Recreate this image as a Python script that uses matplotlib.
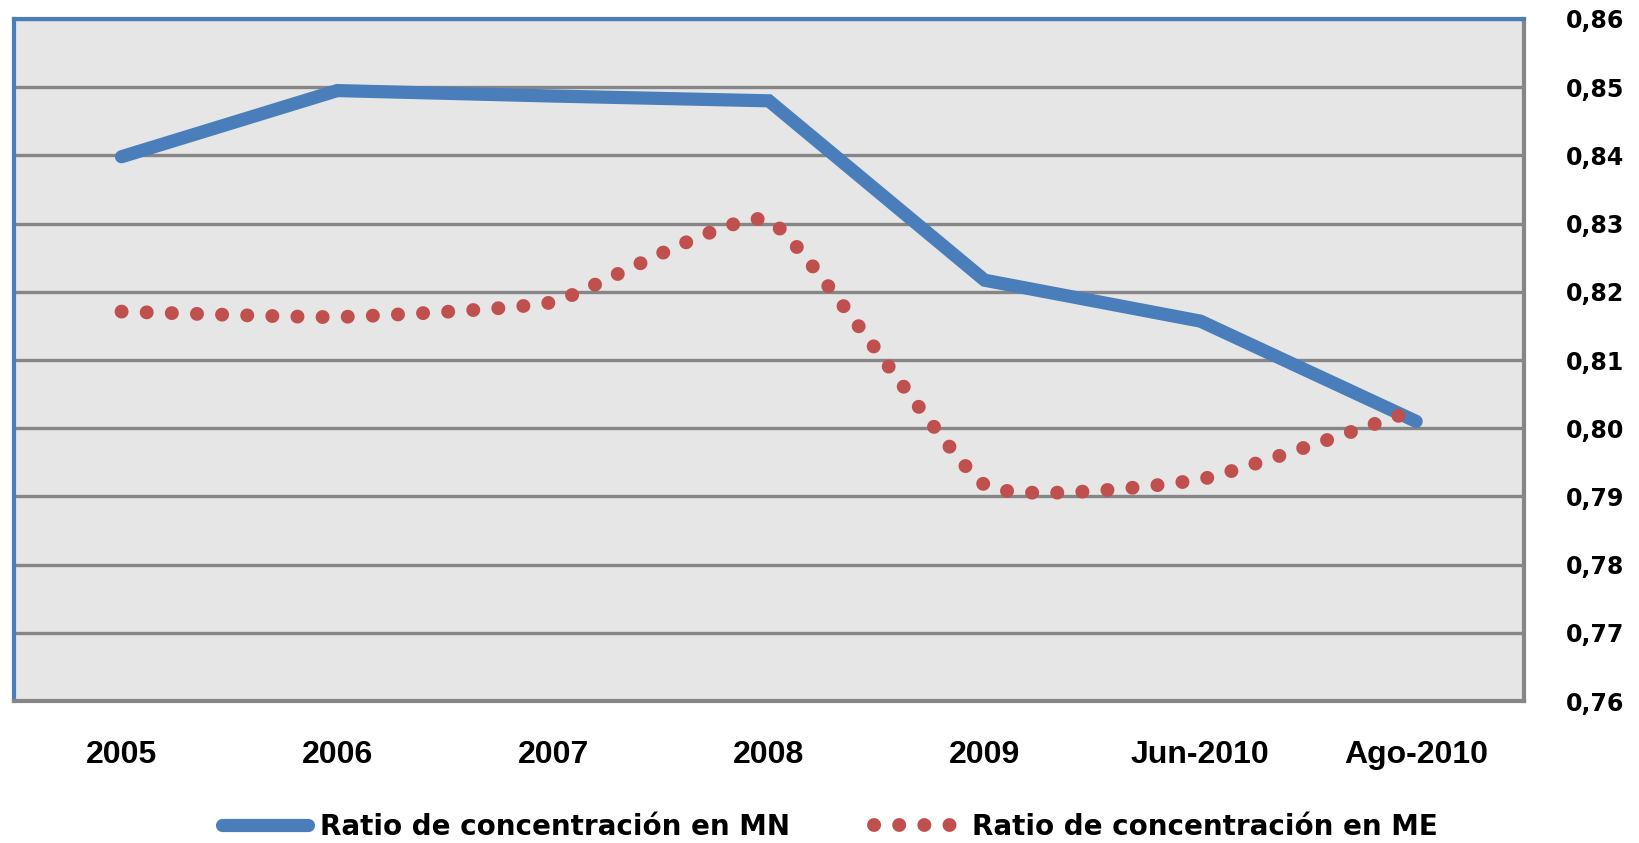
import matplotlib
matplotlib.use("Agg")
import matplotlib.pyplot as plt
import numpy as np

categorias = ["2005", "2006", "2007", "2008", "2009", "Jun-2010", "Ago-2010"]
ratio_mn = [0.8398, 0.8495, 0.8487, 0.8480, 0.8217, 0.8157, 0.8010]
ratio_me = [0.8171, 0.8163, 0.8185, 0.8305, 0.7917, 0.7925, 0.8027]
yticks = [0.76, 0.77, 0.78, 0.79, 0.80, 0.81, 0.82, 0.83, 0.84, 0.85, 0.86]

azul = "#4A7EBB"
rojo = "#C0504D"
gris = "#868686"


def suavizar(x, y, k=1 / 14, n=40):
    # curva suavizada (bezier con tangentes tipo catmull-rom, tension baja)
    x = np.asarray(x, float)
    y = np.asarray(y, float)
    px = np.concatenate([[x[0]], x, [x[-1]]])
    py = np.concatenate([[y[0]], y, [y[-1]]])
    xs, ys = [], []
    t = np.linspace(0, 1, n)
    for i in range(1, len(px) - 2):
        p0 = np.array([px[i], py[i]])
        p3 = np.array([px[i + 1], py[i + 1]])
        c1 = p0 + (np.array([px[i + 1], py[i + 1]]) - np.array([px[i - 1], py[i - 1]])) * k
        c2 = p3 - (np.array([px[i + 2], py[i + 2]]) - np.array([px[i], py[i]])) * k
        b = (np.outer((1 - t) ** 3, p0) + np.outer(3 * (1 - t) ** 2 * t, c1)
             + np.outer(3 * (1 - t) * t ** 2, c2) + np.outer(t ** 3, p3))
        if i > 1:
            b = b[1:]
        xs.extend(b[:, 0])
        ys.extend(b[:, 1])
    return np.array(xs), np.array(ys)


fig = plt.figure(figsize=(16.4, 8.43), dpi=100)
ax = fig.add_axes([0.0083, 0.1684, 0.921, 0.8091])
ax.set_facecolor("#E6E6E6")

x = np.arange(len(categorias))
ax.plot(x, ratio_mn, color=azul, lw=9.5, solid_capstyle="round",
        solid_joinstyle="miter", label="Ratio de concentración en MN", zorder=3)
xs, ys = suavizar(x, ratio_me)
ax.plot(xs, ys, color=rojo, lw=10, linestyle=(0, (0.01, 1.8)),
        dash_capstyle="round", label="Ratio de concentración en ME", zorder=4)

ax.set_xlim(-0.5, len(categorias) - 0.5)
ax.set_ylim(0.76, 0.86)
ax.set_yticks(yticks)
ax.set_yticklabels([f"{v:.2f}".replace(".", ",") for v in yticks],
                   fontfamily="DejaVu Sans", fontweight="bold", fontsize=17)
ax.yaxis.tick_right()
ax.set_xticks(x)
ax.set_xticklabels(categorias, fontfamily="Liberation Sans",
                   fontweight="bold", fontsize=23)
ax.tick_params(axis="y", length=0, pad=30)
ax.tick_params(axis="x", length=0, pad=28)
ax.grid(axis="y", color=gris, lw=2.4)
ax.set_axisbelow(True)

for lado in ["left", "top"]:
    ax.spines[lado].set_color(azul)
    ax.spines[lado].set_linewidth(3)
for lado in ["right", "bottom"]:
    ax.spines[lado].set_color(gris)
    ax.spines[lado].set_linewidth(3)

fig.legend(loc="center", bbox_to_anchor=(0.506, 0.019), ncol=2, frameon=False,
           prop={"family": "DejaVu Sans", "weight": "bold", "size": 20},
           handlelength=3.1, handletextpad=0.45, columnspacing=3.0)

fig.savefig("out.png", dpi=100)
